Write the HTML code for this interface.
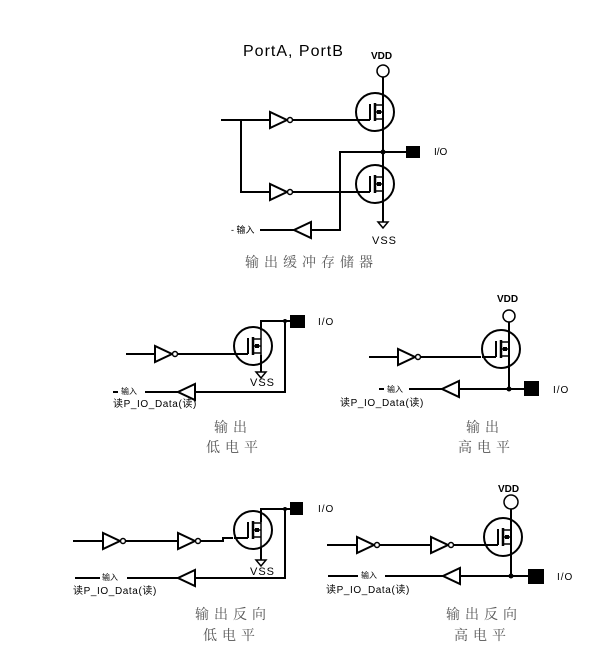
<!DOCTYPE html>
<html><head><meta charset="utf-8"><style>
html,body{margin:0;padding:0;background:#fff;}
svg{display:block;}
text{font-family:"Liberation Sans","Noto Sans CJK SC",sans-serif;fill:#000;}
.cap{font-family:"Noto Serif CJK SC","Liberation Serif",serif;fill:#555;font-size:14px;letter-spacing:5px;}
.sm{font-size:9px;}
.rd{font-size:10px;letter-spacing:0.6px;}
</style></head><body>
<svg width="616" height="655" viewBox="0 0 616 655" xmlns="http://www.w3.org/2000/svg">
<defs>
<g id="inv"><polygon points="0,-8 0,8 17,0" fill="#fff" stroke="#000" stroke-width="2"/><circle cx="20" cy="0" r="2.5" fill="#fff" stroke="#000" stroke-width="1.5"/></g>
<g id="buf"><polygon points="17,-8 17,8 0,0" fill="#fff" stroke="#000" stroke-width="2"/></g>
<g id="mos" fill="none" stroke="#000">
<circle cx="0" cy="0" r="19" stroke-width="2"/>
<path d="M-5,-8 V8 M-19,8 H-5" stroke-width="2"/>
<path d="M0,-9 V9" stroke-width="2.5"/>
<path d="M0,-7 H8 M0,7 H8 M0,0 H8 M8,-19 V19" stroke-width="1.5"/>
<rect x="2" y="-2" width="4" height="4" fill="#000" stroke="none"/>
</g>
<g id="vss"><path d="M-5,0 H5 L0,6 Z" fill="#fff" stroke="#000" stroke-width="1.5"/></g>
</defs>
<g stroke="#000" stroke-width="2" fill="none">
<circle cx="383" cy="71" r="6" stroke-width="1.5"/>
<line x1="383" y1="77" x2="383" y2="222"/>
<line x1="221" y1="120" x2="270" y2="120"/>
<polyline points="241,120 241,192 270,192"/>
<line x1="292" y1="120" x2="357" y2="120"/>
<line x1="292" y1="192" x2="357" y2="192"/>
<line x1="383" y1="152" x2="406" y2="152"/>
<polyline points="383,152 340,152 340,230 311,230"/>
<line x1="294" y1="230" x2="260" y2="230"/>
<line x1="126" y1="354" x2="155" y2="354"/>
<line x1="177" y1="354" x2="235" y2="354"/>
<polyline points="261,330 261,321 290,321"/>
<line x1="261" y1="355" x2="261" y2="372"/>
<polyline points="285,321 285,392 195,392"/>
<line x1="178" y1="392" x2="145" y2="392"/>
<line x1="113" y1="392" x2="118" y2="392"/>
<circle cx="509" cy="316" r="6" stroke-width="1.5"/>
<line x1="509" y1="322" x2="509" y2="389"/>
<line x1="369" y1="357" x2="398" y2="357"/>
<line x1="421" y1="357" x2="481" y2="357"/>
<line x1="524" y1="389" x2="460" y2="389"/>
<line x1="442" y1="389" x2="409" y2="389"/>
<line x1="379" y1="389" x2="384" y2="389"/>
<line x1="73" y1="541" x2="103" y2="541"/>
<line x1="126" y1="541" x2="178" y2="541"/>
<polyline points="201,541 223,541 223,538 233,538"/>
<polyline points="261,522 261,509 290,509"/>
<line x1="261" y1="548" x2="261" y2="560"/>
<polyline points="285,509 285,578 195,578"/>
<line x1="178" y1="578" x2="127" y2="578"/>
<line x1="75" y1="578" x2="100" y2="578"/>
<circle cx="511" cy="502" r="7" stroke-width="1.5"/>
<line x1="511" y1="509" x2="511" y2="576"/>
<line x1="327" y1="545" x2="357" y2="545"/>
<line x1="379" y1="545" x2="431" y2="545"/>
<line x1="453" y1="545" x2="484" y2="545"/>
<line x1="528" y1="576" x2="460" y2="576"/>
<line x1="443" y1="576" x2="385" y2="576"/>
<line x1="328" y1="576" x2="358" y2="576"/>
</g>
<use href="#mos" x="375" y="112"/><use href="#mos" x="375" y="184"/>
<use href="#inv" x="270" y="120"/><use href="#inv" x="270" y="192"/>
<use href="#buf" x="294" y="230"/><use href="#vss" x="383" y="222"/>
<circle cx="383" cy="152" r="2.5"/>
<rect x="406" y="146" width="14" height="12"/>

<use href="#mos" x="253" y="346"/><use href="#inv" x="155" y="354"/>
<use href="#buf" x="178" y="392"/><use href="#vss" x="261" y="372"/>
<circle cx="285" cy="321" r="2"/><rect x="290" y="315" width="15" height="13"/>

<use href="#mos" x="501" y="349"/><use href="#inv" x="398" y="357"/>
<use href="#buf" x="442" y="389"/>
<circle cx="509" cy="389" r="2.5"/><rect x="524" y="381" width="15" height="15"/>

<use href="#mos" x="253" y="530"/><use href="#inv" x="103" y="541"/><use href="#inv" x="178" y="541"/>
<use href="#buf" x="178" y="578"/><use href="#vss" x="261" y="560"/>
<circle cx="285" cy="509" r="2"/><rect x="290" y="502" width="13" height="13"/>

<use href="#mos" x="503" y="537"/><use href="#inv" x="357" y="545"/><use href="#inv" x="431" y="545"/>
<use href="#buf" x="443" y="576"/>
<circle cx="511" cy="576" r="2.5"/><rect x="528" y="569" width="16" height="15"/>

<text x="243" y="56" font-size="16" letter-spacing="1">PortA, PortB</text>
<text x="371" y="59" font-size="10" font-weight="bold">VDD</text>
<text x="434" y="155" font-size="10">I/O</text>
<text x="372" y="244" font-size="11" letter-spacing="1">VSS</text>
<text x="231" y="233" class="sm">- 输入</text>
<text x="245" y="267" class="cap">输出缓冲存储器</text>

<text x="318" y="325" font-size="10" letter-spacing="1">I/O</text>
<text x="250" y="386" font-size="11" letter-spacing="1">VSS</text>
<text x="121" y="394" font-size="8">输入</text>
<text x="113" y="407" class="rd">读P_IO_Data(读)</text>
<text x="214" y="432" class="cap">输出</text>
<text x="206" y="452" class="cap">低电平</text>

<text x="497" y="302" font-size="10" font-weight="bold">VDD</text>
<text x="553" y="393" font-size="10" letter-spacing="1">I/O</text>
<text x="387" y="392" font-size="8">输入</text>
<text x="340" y="406" class="rd">读P_IO_Data(读)</text>
<text x="466" y="432" class="cap">输出</text>
<text x="458" y="452" class="cap">高电平</text>

<text x="318" y="512" font-size="10" letter-spacing="1">I/O</text>
<text x="250" y="575" font-size="11" letter-spacing="1">VSS</text>
<text x="102" y="580" font-size="8">输入</text>
<text x="73" y="594" class="rd">读P_IO_Data(读)</text>
<text x="195" y="619" class="cap">输出反向</text>
<text x="203" y="640" class="cap">低电平</text>

<text x="498" y="492" font-size="10" font-weight="bold">VDD</text>
<text x="557" y="580" font-size="10" letter-spacing="1">I/O</text>
<text x="361" y="578" font-size="8">输入</text>
<text x="326" y="593" class="rd">读P_IO_Data(读)</text>
<text x="446" y="619" class="cap">输出反向</text>
<text x="454" y="640" class="cap">高电平</text>
</svg>
</body></html>
